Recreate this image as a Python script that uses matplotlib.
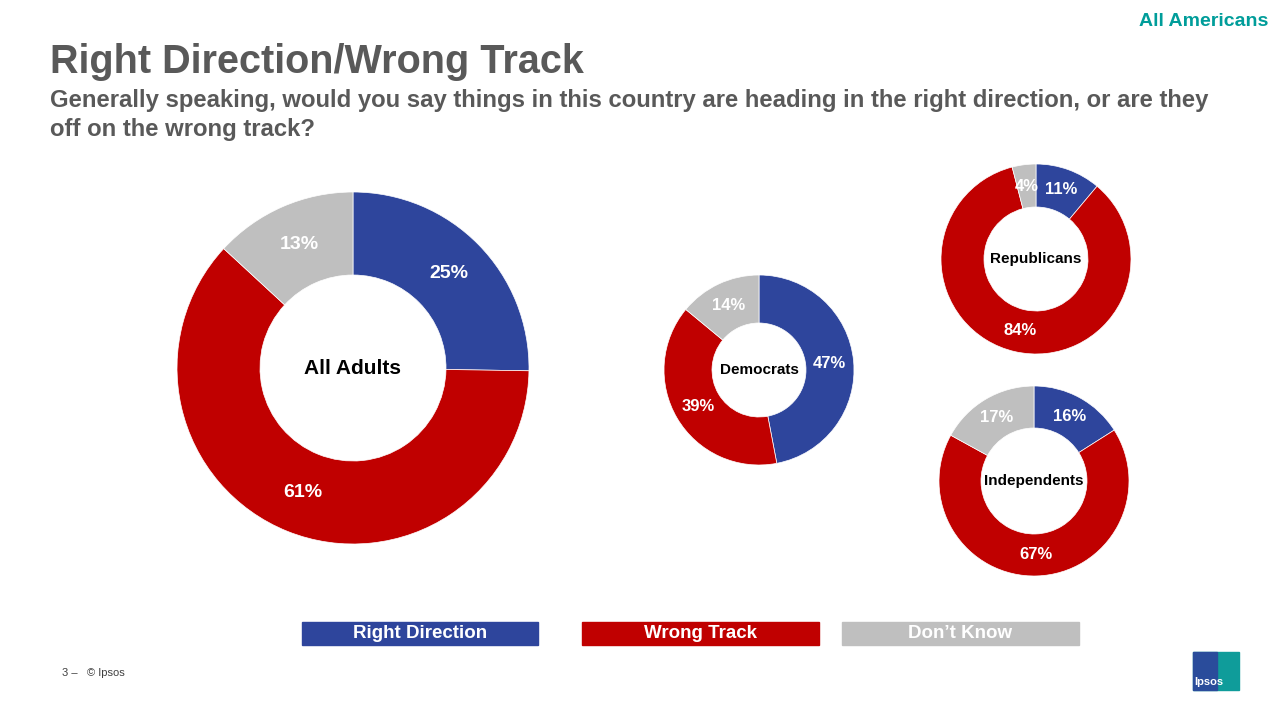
import matplotlib.pyplot as plt
from matplotlib.patches import Rectangle

plt.rcParams['font.family'] = ['Liberation Sans', 'DejaVu Sans']

categories = ["Right Direction", "Wrong Track", "Don\u2019t Know"]
colors = ["#2E459C", "#C00000", "#BFBFBF"]
groups = ["All Adults", "Democrats", "Republicans", "Independents"]
values = {
    "All Adults": [25, 61, 13],
    "Democrats": [47, 39, 14],
    "Republicans": [11, 84, 4],
    "Independents": [16, 67, 17],
}
# center x, center y (pixels from top), outer radius, inner radius, name size
layout = {
    "All Adults": (353, 368, 176, 93, 15),
    "Democrats": (759, 370, 95, 47, 11),
    "Republicans": (1036, 259, 95, 52, 11),
    "Independents": (1034, 481, 95, 53, 11),
}

W, H = 1280, 720
fig = plt.figure(figsize=(12.8, 7.2), dpi=100)
fig.patch.set_facecolor("white")

for g in groups:
    cx, cy, r, ri, fs = layout[g]
    ax = fig.add_axes([(cx - r) / W, 1 - (cy + r) / H, 2 * r / W, 2 * r / H])
    width = 1 - ri / r
    ax.pie(values[g], colors=colors, startangle=90, counterclock=False, radius=1,
           wedgeprops=dict(width=width, edgecolor="white", linewidth=0.5),
           labels=[f"{v}%" for v in values[g]], labeldistance=1 - width / 2,
           textprops=dict(color="white", fontweight="bold", fontsize=14 if g == "All Adults" else 12,
                          ha="center", va="center"))
    ax.text(0, 0, g, ha="center", va="center", fontsize=fs, fontweight="bold", color="black")
    ax.set_xlim(-1, 1)
    ax.set_ylim(-1, 1)
    ax.set_aspect("equal")
    ax.axis("off")

fig.text(50 / W, 1 - 62 / H, "Right Direction/Wrong Track", fontsize=28.5, fontweight="bold",
         color="#595959", va="center")
fig.text(50 / W, 1 - 115 / H,
         "Generally speaking, would you say things in this country are heading in the right direction, or are they\noff on the wrong track?",
         fontsize=17.2, fontweight="bold", color="#595959", va="center", linespacing=1.3)
fig.text(1268 / W, 1 - 22 / H, "All Americans", fontsize=14, fontweight="bold", color="#009D9A",
         ha="right", va="center")

for (x0, x1), c, lab in zip([(302, 538), (582, 819), (842, 1079)], colors, categories):
    fig.patches.append(Rectangle((x0 / W, 1 - 645 / H), (x1 - x0) / W, 23 / H,
                                 transform=fig.transFigure, color=c))
    fig.text((x0 + x1) / 2 / W, 1 - 634 / H, lab, color="white", fontsize=13.5, fontweight="bold",
             ha="center", va="center")

fig.text(62 / W, 1 - 673 / H, "3 \u2013   \u00a9 Ipsos", fontsize=8, color="#404040", va="center")
fig.patches.append(Rectangle((1193 / W, 1 - 690 / H), 46 / W, 38 / H,
                             transform=fig.transFigure, color="#0F9C9A"))
fig.patches.append(Rectangle((1193 / W, 1 - 690 / H), 24 / W, 38 / H,
                             transform=fig.transFigure, color="#2A4C9B"))
fig.text(1209 / W, 1 - 682 / H, "Ipsos", color="white", fontsize=8, fontweight="bold",
         ha="center", va="center")

fig.savefig("out.png", dpi=100)
